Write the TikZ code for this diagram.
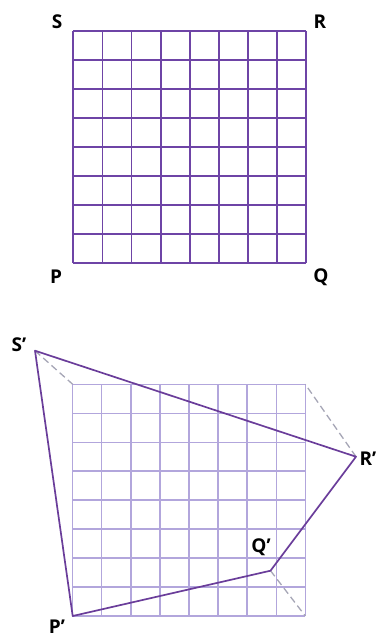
\documentclass[tikz,border=0pt]{standalone}
\usepackage{fontspec}
\setmainfont{Open Sans}
\definecolor{gridA}{HTML}{6E44A6}
\definecolor{gridB}{HTML}{B2A6DC}
\definecolor{quad}{HTML}{6A3D9A}
\definecolor{dashc}{HTML}{A6A6B6}
\tikzset{
  lbl/.style={font=\fontsize{19}{19}\selectfont\bfseries, text=black, inner sep=0pt},
  gridtop/.style={draw=gridA, line width=1.8pt},
  gridbot/.style={draw=gridB, line width=1.4pt},
  quadline/.style={draw=quad, line width=1.7pt, line join=round},
  dashline/.style={draw=dashc, line width=1.3pt, dash pattern=on 7pt off 4pt},
}
\begin{document}
\begin{tikzpicture}[x=1pt,y=-1pt]
\useasboundingbox (0,0) rectangle (389,639);
% top grid
\foreach \i in {0,...,8} {
  \draw[gridtop] ({73.3+\i*29.1},31) -- ({73.3+\i*29.1},263.3);
  \draw[gridtop] (73.3,{31+\i*29.04}) -- (306,{31+\i*29.04});
}
\node[lbl] (S) at (57,22) {S};
\node[lbl] (R) at (320,22) {R};
\node[lbl] (P) at (56,277) {P};
\node[lbl] (Q) at (321,277) {Q};
% bottom grid
\foreach \i in {0,...,8} {
  \draw[gridbot] ({72.7+\i*29.08},384.3) -- ({72.7+\i*29.08},616);
  \draw[gridbot] (72.7,{384.3+\i*28.96}) -- (305.3,{384.3+\i*28.96});
}
\coordinate (g1) at (72.7,384.3);
\coordinate (g2) at (305.3,384.3);
\coordinate (g3) at (305.3,616);
\coordinate (Sp) at (35,350.7);
\coordinate (Rp) at (356,456.7);
\coordinate (Qp) at (270.5,570.7);
\coordinate (Pp) at (72.7,616);
\draw[dashline] (Sp) -- (g1);
\draw[dashline] (Rp) -- (g2);
\draw[dashline] (Qp) -- (g3);
\draw[quadline] (Pp) -- (Qp) -- (Rp) -- (Sp) -- cycle;
\node[lbl] (Slab) at (19,345) {S’};
\node[lbl] (Rlab) at (368,459) {R’};
\node[lbl] (Qlab) at (261,547) {Q’};
\node[lbl] (Plab) at (57,627) {P’};
\end{tikzpicture}
\end{document}
